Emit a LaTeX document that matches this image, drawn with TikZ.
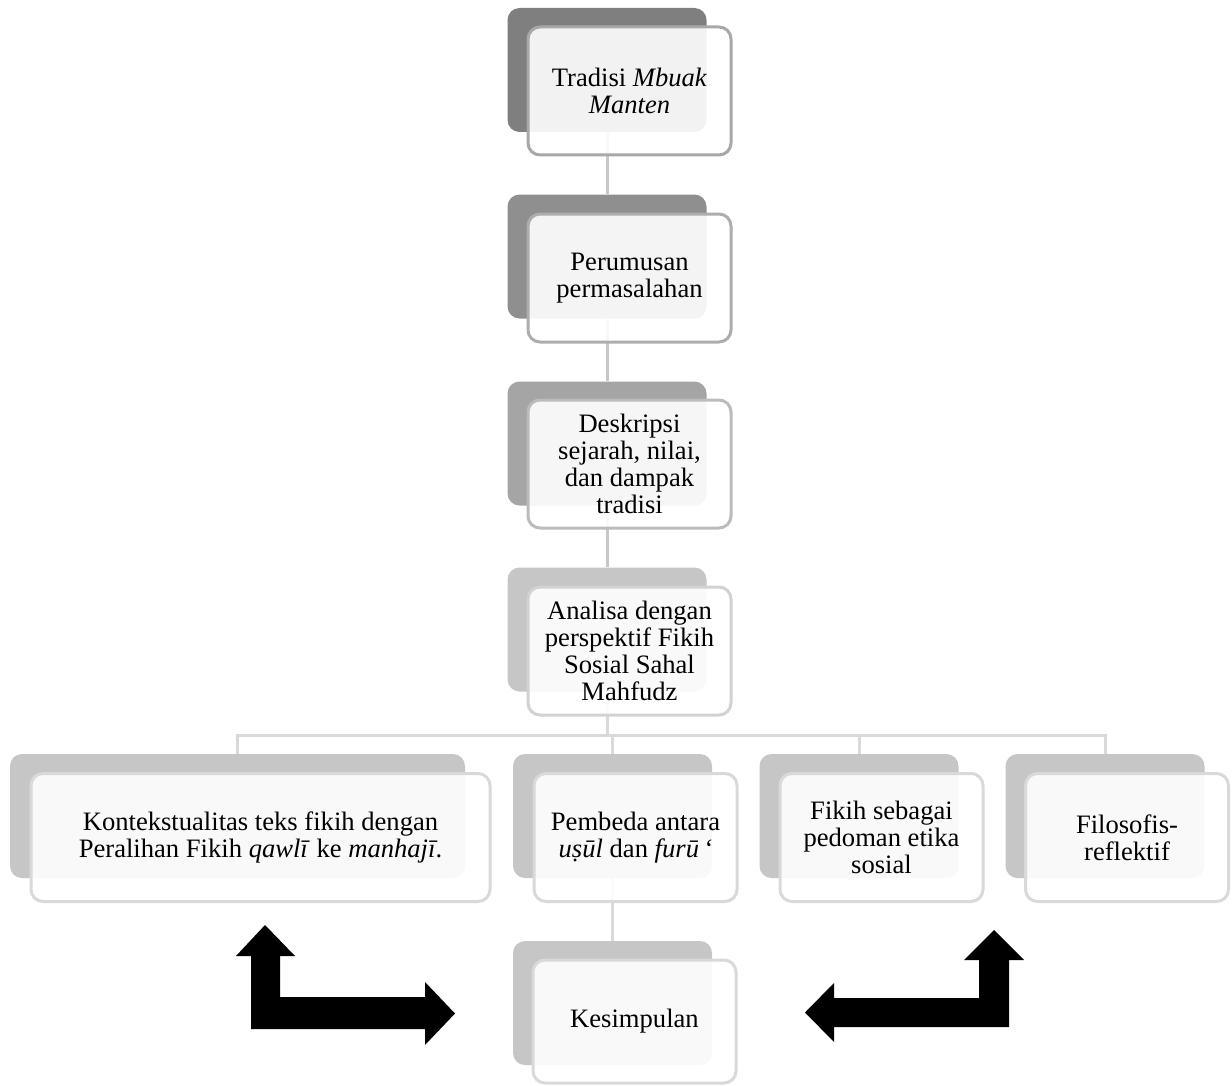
\documentclass[tikz,border=0pt]{standalone}
\usepackage{fontspec}
\setmainfont{Liberation Serif}
\usetikzlibrary{backgrounds}
\definecolor{shA}{HTML}{7F7F7F}
\definecolor{shB}{HTML}{8F8F8F}
\definecolor{shC}{HTML}{A5A5A5}
\definecolor{shD}{HTML}{C6C6C6}
\definecolor{brA}{HTML}{A8A8A8}
\definecolor{brB}{HTML}{ADADAD}
\definecolor{brC}{HTML}{BBBBBB}
\definecolor{brD}{HTML}{D2D2D2}
\definecolor{brE}{HTML}{D9D9D9}
\definecolor{lnA}{HTML}{C8C8C8}
\definecolor{lnB}{HTML}{D9D9D9}
\tikzset{
  shbox/.style={rectangle, rounded corners=6pt, draw=none, minimum width=99.5pt, minimum height=62pt, inner sep=0pt},
  frbox/.style={rectangle, rounded corners=6pt, line width=1.5pt, fill=white, fill opacity=0.9, text opacity=1,
    minimum width=101.5pt, minimum height=64pt, align=center, inner sep=2pt, text=black,
    font=\fontsize{13.3}{13.5}\selectfont},
  link/.style={line width=1.5pt},
  blockarrow/.style={fill=black, draw=none},
}
\begin{document}
\begin{tikzpicture}[x=0.5pt,y=-0.5pt]
\useasboundingbox (0,0) rectangle (1232,1086);
% column
\node[shbox, fill=shA] (s1) at (607,70) {};
\node[frbox, draw=brA] (f1) at (629.5,91) {Tradisi \textit{Mbuak}\\\textit{Manten}};
\node[shbox, fill=shB] (s2) at (607,256.5) {};
\node[frbox, draw=brB] (f2) at (629.5,278) {Perumusan\\permasalahan};
\node[shbox, fill=shC] (s3) at (607,443.5) {};
\node[frbox, draw=brC] (f3) at (629.5,464) {Deskripsi\\sejarah, nilai,\\dan dampak\\tradisi};
\node[shbox, fill=shD] (s4) at (607,629.5) {};
\node[frbox, draw=brD] (f4) at (629.5,651) {Analisa dengan\\perspektif Fikih\\Sosial Sahal\\Mahfudz};
% bottom row
\node[shbox, fill=shD, minimum width=227.5pt] (sb1) at (237.5,816) {};
\node[frbox, draw=brE, minimum width=229.5pt] (fb1) at (260.5,837.5) {Kontekstualitas teks fikih dengan\\Peralihan Fikih \textit{qawlī} ke \textit{manhajī}.};
\node[shbox, fill=shD] (sb2) at (612.5,816) {};
\node[frbox, draw=brE] (fb2) at (635.5,837.5) {Pembeda antara\\\textit{uṣūl} dan \textit{furū\,‘}};
\node[shbox, fill=shD] (sb3) at (859,816) {};
\node[frbox, draw=brE] (fb3) at (881.5,837.5) {Fikih sebagai\\pedoman etika\\sosial};
\node[shbox, fill=shD] (sb4) at (1105,816) {};
\node[frbox, draw=brE] (fb4) at (1127,837.5) {Filosofis-\\reflektif};
\node[shbox, fill=shD] (sk) at (612.5,1003) {};
\node[frbox, draw=brE, minimum height=61.5pt] (fk) at (634.5,1021.5) {Kesimpulan};
% connectors
\begin{scope}[on background layer]
\coordinate (busy) at (0,735);
\draw[link, draw=lnA] (s1.south) -- (s2.north);
\draw[link, draw=lnA] (s2.south) -- (s3.north);
\draw[link, draw=lnA] (s3.south) -- (s4.north);
\draw[link, draw=lnB] (s4.south) -- (s4.south |- busy);
\draw[link, draw=lnB] (sb1.north) -- (sb1.north |- busy) -- (sb4.north |- busy) -- (sb4.north);
\draw[link, draw=lnB] (sb2.north) -- (sb2.north |- busy);
\draw[link, draw=lnB] (sb3.north) -- (sb3.north |- busy);
\draw[link, draw=lnB] (sb2.south) -- (sk.north);
\end{scope}
% block arrows
\fill[blockarrow] (265,925) -- (295,956) -- (280,956) -- (280,997) -- (425,997) -- (425,982)
  -- (455,1013.5) -- (425,1045) -- (425,1029) -- (251,1029) -- (251,956) -- (236,956) -- cycle;
\fill[blockarrow] (994,930) -- (1024,960) -- (1009,960) -- (1009,1027) -- (834,1027) -- (834,1042)
  -- (805,1012.5) -- (834,983) -- (834,998) -- (979,998) -- (979,960) -- (964,960) -- cycle;
\end{tikzpicture}
\end{document}
